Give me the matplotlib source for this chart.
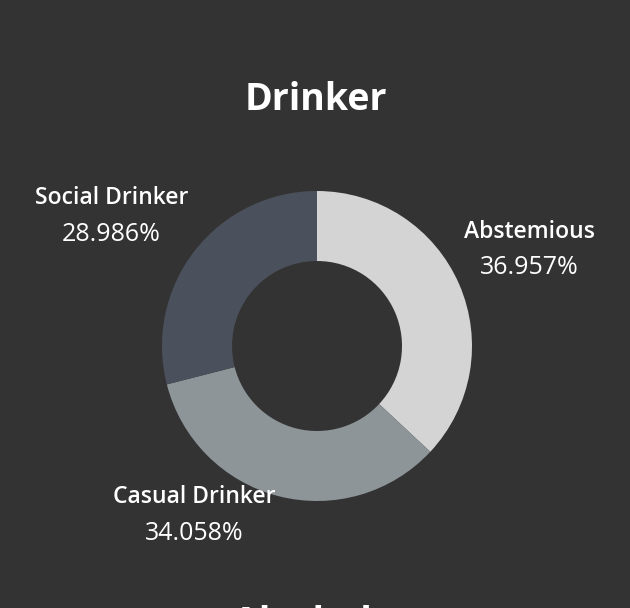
import matplotlib.pyplot as plt

# data
labels = ['Abstemious', 'Casual Drinker', 'Social Drinker']
shares = [36.957, 34.058, 28.986]
colors = ['#d4d4d4', '#8d9599', '#4b515c']

bg = '#333333'
W, H = 630, 608

plt.rcParams['font.family'] = ['Open Sans', 'DejaVu Sans']

fig = plt.figure(figsize=(W / 100, H / 100), dpi=100, facecolor=bg)
ax = fig.add_axes([0, 0, 1, 1])
ax.set_facecolor(bg)

# donut, drawn in pixel coordinates (y measured from bottom)
ax.pie(shares, colors=colors, startangle=90, counterclock=False,
       center=(317, H - 346), radius=155,
       wedgeprops=dict(width=70, linewidth=0))
ax.set_xlim(0, W)
ax.set_ylim(0, H)
ax.set_aspect('equal')
ax.axis('off')

ax.text(315.5, H - 110, 'Drinker', ha='center', va='baseline',
        fontsize=27, fontweight='bold', color='white')

# label spots: (x center, name baseline, percent baseline) in pixels from top
spots = {
    'Abstemious': (529.5, 238, 274),
    'Casual Drinker': (194.5, 503, 540),
    'Social Drinker': (111.5, 204, 241),
}
for name, val in zip(labels, shares):
    x, y1, y2 = spots[name]
    ax.text(x, H - y1, name, ha='center', va='baseline', fontsize=16.5,
            fontweight='semibold', color='white')
    ax.text(x, H - y2, f'{val:.3f}%', ha='center', va='baseline',
            fontsize=18, color='white')

# title of the next sheet, cut off at the bottom edge
ax.text(233, H - 634, 'Alcohol', ha='left', va='baseline', fontsize=27,
        fontweight='bold', color='white', clip_on=False)

fig.savefig('out.png', dpi=100, facecolor=bg)
